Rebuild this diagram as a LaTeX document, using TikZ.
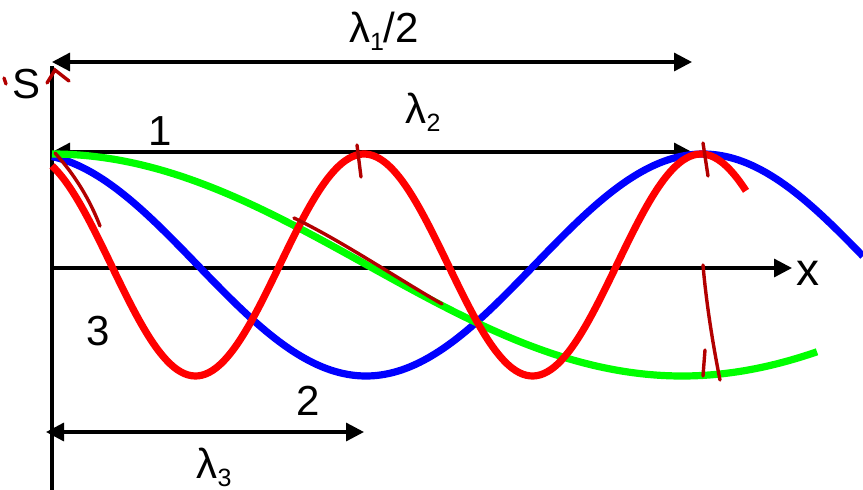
\documentclass[tikz,border=0pt]{standalone}
\usepackage{fontspec}
\setmainfont{Liberation Sans}
\usetikzlibrary{arrows.meta}
\newcommand\lamsub[1]{λ\raisebox{-8pt}{\fontsize{25}{25}\selectfont #1}}
\begin{document}
\begin{tikzpicture}[x=1pt,y=-1pt,
  axisline/.style={line width=3.3pt,black},
  dimarrow/.style={line width=3.3pt,black,{Triangle[length=18pt,width=18pt]}-{Triangle[length=18pt,width=18pt]}},
  lbl/.style={anchor=base,inner sep=0pt,font=\fontsize{42}{42}\selectfont},
  wave/.style={line width=7.2pt},
  handmark/.style={line width=3.4pt,draw={rgb,255:red,178;green,0;blue,0},line cap=round}]
\useasboundingbox (0,0) rectangle (863,490);
% coordinates
\coordinate (vb) at (52,490);
\coordinate (vt) at (52,66);
\coordinate (ho) at (52,268);
\coordinate (he) at (792,268);
\coordinate (a1l) at (52,62);
\coordinate (a1r) at (692,62);
\coordinate (a2l) at (52,152);
\coordinate (a2r) at (692,152);
\coordinate (a3l) at (46,432);
\coordinate (a3r) at (364,432);
% axes
\draw[axisline] (vb) -- (vt);
\draw[axisline,-{Triangle[length=18pt,width=18pt]}] (ho) -- (he);
% dimension arrows
\draw[dimarrow] (a1l) -- (a1r);
\draw[dimarrow] (a2l) -- (a2r);
\draw[dimarrow] (a3l) -- (a3r);
% waves
\draw[wave,blue] plot[domain=52:863,samples=160,smooth] (\x,{265-111*cos((\x-29)/674*360)});
\draw[wave,green] plot[domain=52:817,samples=140,smooth] (\x,{265-111*cos((\x-52)/630*180)});
\draw[wave,red] plot[domain=52:746,samples=200,smooth] (\x,{265-111*cos((\x-27)/337*360)});
% labels
\node[lbl] (S) at (27,98) {S};
\node[lbl,font=\fontsize{46}{46}\selectfont] (X) at (808,285) {x};
\node[lbl] (L1) at (384,42) {\lamsub{1}/2};
\node[lbl] (L2) at (423,123) {\lamsub{2}};
\node[lbl] (L3) at (214,478) {\lamsub{3}};
\node[lbl] (n1) at (160,145) {1};
\node[lbl] (n2) at (308,415) {2};
\node[lbl] (n3) at (98,345) {3};
% hand-drawn marks
\draw[handmark] (47,83) -- (55,70) -- (69,81);
\draw[handmark] (4,78) -- (6,84);
\draw[handmark] (55,153) .. controls (75,175) and (90,200) .. (100,226);
\draw[handmark] (357,145) -- (361,177);
\draw[handmark] (294,218) .. controls (340,240) and (400,280) .. (442,304);
\draw[handmark] (703,143) -- (708,176);
\draw[handmark] (703,265) .. controls (706,300) and (712,340) .. (720,380);
\draw[handmark] (705,350) -- (703,376);
\end{tikzpicture}
\end{document}
